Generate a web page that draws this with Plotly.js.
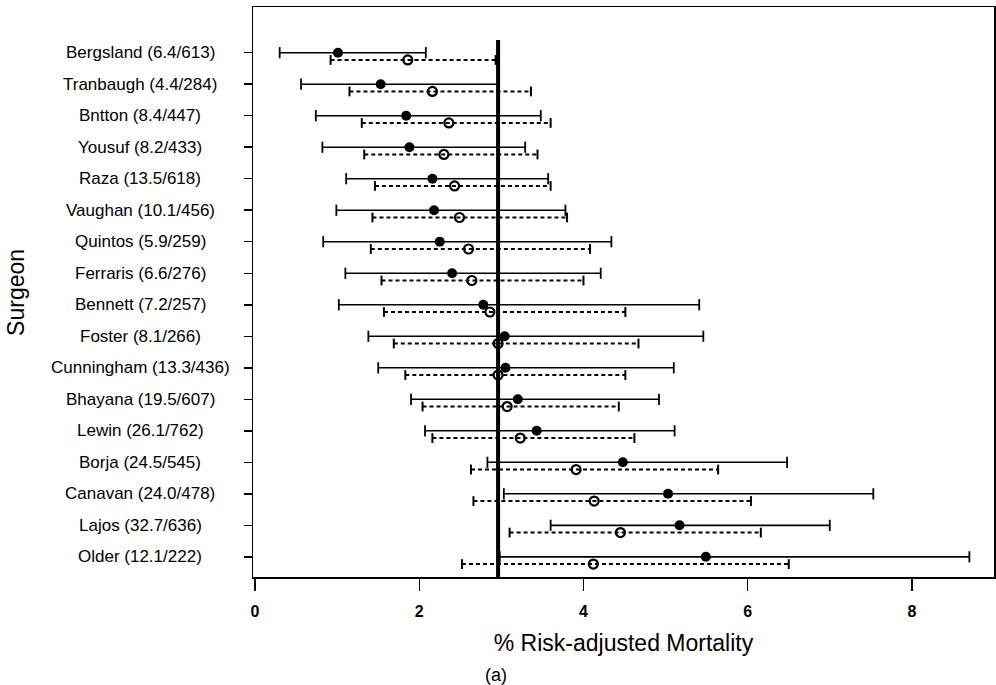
<!DOCTYPE html>
<html>
<head>
<meta charset="utf-8">
<script src="https://cdn.plot.ly/plotly-3.0.1.min.js"></script>
<style>
  html, body { margin: 0; padding: 0; background: #fff; }
  #chart { width: 996px; height: 685px; }
</style>
</head>
<body>
<div id="chart"></div>
<script>
// ---- data ----
const surgeons = [
  "Bergsland (6.4/613)", "Tranbaugh (4.4/284)", "Bntton (8.4/447)", "Yousuf (8.2/433)",
  "Raza (13.5/618)", "Vaughan (10.1/456)", "Quintos (5.9/259)", "Ferraris (6.6/276)",
  "Bennett (7.2/257)", "Foster (8.1/266)", "Cunningham (13.3/436)", "Bhayana (19.5/607)",
  "Lewin (26.1/762)", "Borja (24.5/545)", "Canavan (24.0/478)", "Lajos (32.7/636)",
  "Older (12.1/222)"
];
// solid (filled dot) interval
const solidLo = [0.30, 0.56, 0.74, 0.82, 1.11, 0.99, 0.83, 1.10, 1.02, 1.38, 1.50, 1.90, 2.07, 2.83, 3.03, 3.60, 2.98];
const solidPt = [1.01, 1.53, 1.84, 1.88, 2.16, 2.18, 2.25, 2.40, 2.78, 3.04, 3.05, 3.20, 3.43, 4.48, 5.03, 5.17, 5.49];
const solidHi = [2.08, 2.97, 3.48, 3.29, 3.57, 3.78, 4.34, 4.21, 5.41, 5.46, 5.10, 4.92, 5.11, 6.48, 7.53, 7.00, 8.70];
// dashed (open circle) interval
const dashLo = [0.92, 1.15, 1.30, 1.33, 1.46, 1.43, 1.41, 1.54, 1.57, 1.69, 1.83, 2.04, 2.16, 2.63, 2.66, 3.10, 2.52];
const dashPt = [1.86, 2.16, 2.36, 2.30, 2.43, 2.49, 2.60, 2.64, 2.86, 2.96, 2.96, 3.07, 3.23, 3.91, 4.13, 4.45, 4.12];
const dashHi = [2.93, 3.36, 3.60, 3.44, 3.60, 3.80, 4.08, 4.00, 4.51, 4.67, 4.51, 4.43, 4.62, 5.64, 6.04, 6.16, 6.50];
const overallRate = 2.96;
const xTicks = [0, 2, 4, 6, 8];

// ---- build traces ----
const rowPos = surgeons.map((_, i) => i);
const dashOffset = 0.23;
const yTop = -1.45, yBottom = 16.64;

function segments(lo, hi, off) {
  const xs = [], ys = [];
  lo.forEach((v, i) => { xs.push(v, hi[i], null); ys.push(rowPos[i] + off, rowPos[i] + off, null); });
  return { xs, ys };
}
const s = segments(solidLo, solidHi, 0);
const d = segments(dashLo, dashHi, dashOffset);

const traces = [
  { // overall reference line
    x: [overallRate, overallRate], y: [-0.4, yBottom], mode: 'lines',
    line: { color: '#000', width: 4 }, hoverinfo: 'skip'
  },
  {
    x: d.xs, y: d.ys, mode: 'lines+markers',
    line: { color: '#000', width: 2, dash: '4px,3px' },
    marker: { symbol: 'line-ns-open', size: 7, line: { color: '#000', width: 2 } },
    hoverinfo: 'skip'
  },
  {
    x: s.xs, y: s.ys, mode: 'lines+markers',
    line: { color: '#000', width: 1.6 },
    marker: { symbol: 'line-ns-open', size: 8, line: { color: '#000', width: 1.8 } },
    hoverinfo: 'skip'
  },
  {
    x: dashPt, y: rowPos.map(p => p + dashOffset), mode: 'markers',
    marker: { symbol: 'circle-open', size: 9, color: '#000', line: { color: '#000', width: 2.2 } },
    hoverinfo: 'skip'
  },
  {
    x: solidPt, y: rowPos, mode: 'markers',
    marker: { symbol: 'circle', size: 10, color: '#000' },
    hoverinfo: 'skip'
  }
];

const font = '"Liberation Sans", Arial, Helvetica, sans-serif';
const annotations = surgeons.map((name, i) => ({
  text: name, xref: 'paper', yref: 'y', x: -0.152, y: rowPos[i],
  xanchor: 'center', yanchor: 'middle', showarrow: false,
  font: { family: font, size: 17, color: '#000' }
}));
annotations.push({
  text: 'Surgeon', xref: 'paper', yref: 'paper', x: -0.320, y: 0.5,
  xanchor: 'center', yanchor: 'middle', textangle: -90, showarrow: false,
  font: { family: font, size: 23, color: '#000' }
});
annotations.push({
  text: '(a)', xref: 'paper', yref: 'paper', x: 0.311, y: -0.172,
  xanchor: 'left', yanchor: 'middle', showarrow: false,
  font: { family: font, size: 18, color: '#000' }
});

const layout = {
  width: 996, height: 685,
  margin: { l: 253, r: 2, t: 7, b: 108 },
  paper_bgcolor: '#fff', plot_bgcolor: '#fff',
  showlegend: false,
  font: { family: font, color: '#000' },
  xaxis: {
    range: [-0.025, 9.0], tickvals: xTicks, ticktext: xTicks.map(String),
    ticks: 'outside', ticklen: 12, tickwidth: 1.5, tickcolor: '#000',
    showline: true, mirror: true, linecolor: '#000', linewidth: 1.5,
    showgrid: false, zeroline: false,
    tickfont: { family: font, size: 16, color: '#000', weight: 'bold' },
    ticklabelstandoff: 7,
    title: { text: '% Risk-adjusted Mortality', font: { family: font, size: 23, color: '#000' }, standoff: 16 }
  },
  yaxis: {
    range: [yBottom, yTop], tickvals: rowPos, ticktext: rowPos.map(() => ''),
    ticks: 'outside', ticklen: 8, tickwidth: 1.5, tickcolor: '#000',
    showline: true, mirror: true, linecolor: '#000', linewidth: 1.5,
    showgrid: false, zeroline: false
  },
  annotations: annotations
};

Plotly.newPlot('chart', traces, layout, { displayModeBar: false, staticPlot: true });
</script>
</body>
</html>
